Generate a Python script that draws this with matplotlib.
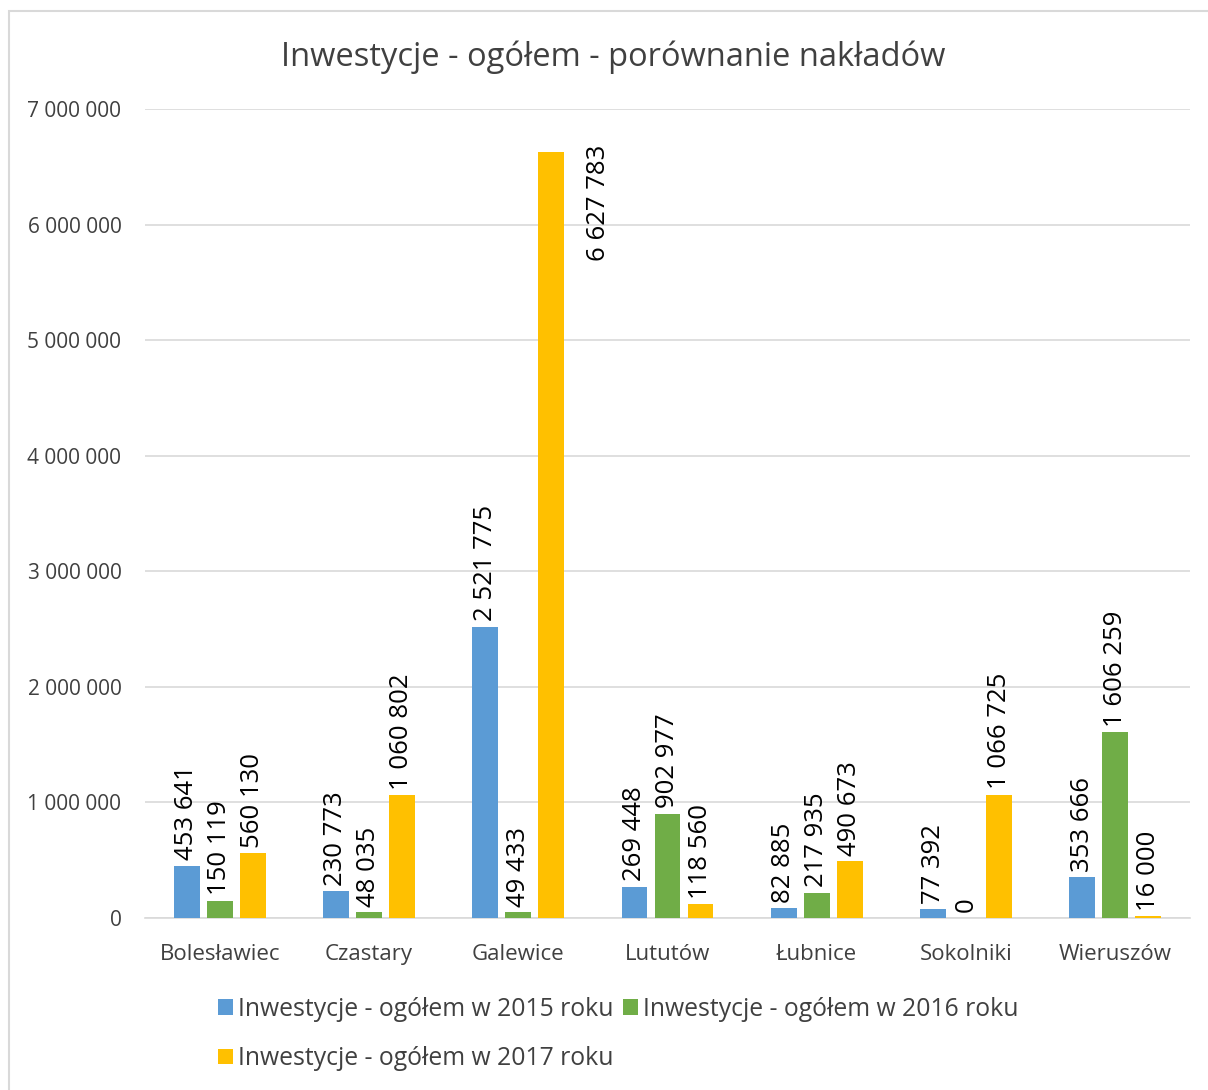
import matplotlib
matplotlib.use("Agg")
import matplotlib.pyplot as plt
import numpy as np
from matplotlib.patches import Rectangle

categories = ["Bolesławiec", "Czastary", "Galewice", "Lututów", "Łubnice", "Sokolniki", "Wieruszów"]
v2015 = [453641, 230773, 2521775, 269448, 82885, 77392, 353666]
v2016 = [150119, 48035, 49433, 902977, 217935, 0, 1606259]
v2017 = [560130, 1060802, 6627783, 118560, 490673, 1066725, 16000]
series_names = ["Inwestycje - ogółem w 2015 roku", "Inwestycje - ogółem w 2016 roku",
                "Inwestycje - ogółem w 2017 roku"]
colors = ["#5B9BD5", "#70AD47", "#FFC000"]
yticks = [0, 1000000, 2000000, 3000000, 4000000, 5000000, 6000000, 7000000]
title = "Inwestycje - ogółem - porównanie nakładów"

plt.rcParams['font.family'] = ['Open Sans', 'DejaVu Sans']
txt = "#404040"

def fmt(v):
    return f"{int(v):,}".replace(",", " ")

fig = plt.figure(figsize=(12.08, 10.9), dpi=100)
W, H = 1208, 1090
fig.patches.append(Rectangle((9 / W, -0.1), 1.2, (1 - 11 / H) + 0.1, transform=fig.transFigure,
                             fill=False, edgecolor="#D9D9D9", linewidth=1.5))
ax = fig.add_axes([145 / W, 1 - 918 / H, (1190 - 145) / W, (918 - 109) / H])

x = np.arange(len(categories))
bw = 0.174
step = 0.221
ymax = 7000000
for i, (vals, c, name) in enumerate(zip([v2015, v2016, v2017], colors, series_names)):
    xs = x + (i - 1) * step
    ax.bar(xs, vals, width=bw, color=c, label=name, zorder=3)
    for xi, v in zip(xs, vals):
        if v > 0.85 * ymax:
            ax.annotate(fmt(v), (xi, v), xytext=(34, 5), textcoords="offset points",
                        rotation=90, ha="center", va="top", fontsize=18.5, color="black")
        else:
            ax.annotate(fmt(v), (xi, v), xytext=(0, 4), textcoords="offset points",
                        rotation=90, ha="center", va="bottom", fontsize=18.5, color="black")

ax.set_xlim(-0.5, len(categories) - 0.5)
ax.set_ylim(0, ymax)
ax.set_yticks(yticks)
ax.set_yticklabels([fmt(t) for t in yticks], fontsize=15, color=txt)
ax.set_xticks(x)
ax.set_xticklabels(categories, fontsize=16, color=txt)
ax.tick_params(axis="both", length=0)
ax.tick_params(axis="y", pad=17)
ax.tick_params(axis="x", pad=19)
ax.grid(axis="y", color="#D9D9D9", linewidth=1.2, zorder=0)
for s in ["top", "right", "left"]:
    ax.spines[s].set_visible(False)
ax.spines["bottom"].set_color("#D9D9D9")
ax.spines["bottom"].set_linewidth(1.2)

fig.text(613 / W, 1 - 57 / H, title, ha="center", va="center", fontsize=23.5, color=txt)

h, l = ax.get_legend_handles_labels()
order = [0, 2, 1]
leg = fig.legend([h[k] for k in order], [l[k] for k in order], ncol=2,
                 loc="center", bbox_to_anchor=(618 / W, 1 - 1034 / H), frameon=False,
                 fontsize=17.8, handlelength=0.6, handleheight=0.6, handletextpad=0.2,
                 columnspacing=0.4, labelspacing=1.0)
for t in leg.get_texts():
    t.set_color(txt)

fig.savefig("out.png", dpi=100)
